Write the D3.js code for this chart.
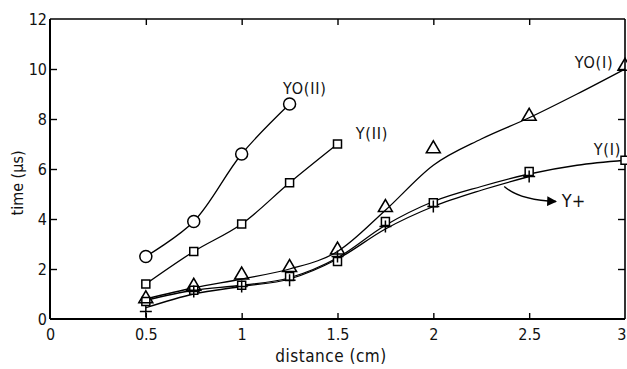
<!DOCTYPE html>
<html>
<head>
<meta charset="utf-8">
<script src="https://cdn.jsdelivr.net/npm/d3@7"></script>
<style>
  body { margin: 0; background: #fff; }
  svg text { font-family: "DejaVu Sans Condensed", "DejaVu Sans", sans-serif; fill: #111; }
</style>
</head>
<body>
<svg id="chart"></svg>
<script>
// ---- data ----
const xTicks = [0, 0.5, 1, 1.5, 2, 2.5, 3];
const yTicks = [0, 2, 4, 6, 8, 10, 12];

// markers
const yo2X = [0.5, 0.75, 1, 1.25];
const yo2Y = [2.5, 3.9, 6.6, 8.6];
const y2X = [0.5, 0.75, 1, 1.25, 1.5];
const y2Y = [1.4, 2.7, 3.8, 5.45, 7.0];
const yo1X = [0.5, 0.75, 1, 1.25, 1.5, 1.75, 2, 2.5, 3];
const yo1Y = [0.85, 1.35, 1.8, 2.1, 2.8, 4.5, 6.85, 8.15, 10.15];
const y1X = [0.5, 0.75, 1, 1.25, 1.5, 1.75, 2, 2.5, 3];
const y1Y = [0.7, 1.15, 1.35, 1.7, 2.3, 3.9, 4.65, 5.9, 6.35];
const ypX = [0.5, 0.75, 1, 1.25, 1.5, 1.75, 2, 2.5];
const ypY = [0.3, 1.1, 1.3, 1.55, 2.5, 3.7, 4.5, 5.7];

// hand-drawn fitted curves
const yo1CurveX = [0.5, 0.75, 1, 1.25, 1.5, 1.75, 2, 2.25, 2.5, 2.75, 3];
const yo1CurveY = [0.8, 1.25, 1.6, 2.0, 2.7, 4.35, 6.15, 7.2, 8.05, 9.0, 10.0];
const y1CurveX = [0.5, 0.75, 1, 1.25, 1.5, 1.75, 2, 2.25, 2.5, 2.75, 3];
const y1CurveY = [0.75, 1.15, 1.35, 1.65, 2.45, 3.75, 4.7, 5.3, 5.8, 6.15, 6.35];
const ypCurveX = [0.5, 0.75, 1, 1.25, 1.5, 1.75, 2, 2.25, 2.5];
const ypCurveY = [0.45, 1.0, 1.3, 1.6, 2.4, 3.6, 4.5, 5.15, 5.7];

const width = 627, height = 369;
const margin = {left: 50, right: 2, top: 19, bottom: 50};

const svg = d3.select("#chart").attr("width", width).attr("height", height);

const x = d3.scaleLinear().domain([0, 3]).range([margin.left, width - margin.right]);
const y = d3.scaleLinear().domain([0, 12]).range([height - margin.bottom, margin.top]);

const zip = (xs, ys) => xs.map((d, i) => [d, ys[i]]);

// frame
const x0 = x(0), x1 = x(3), yB = y(0), yT = y(12);
svg.append("line").attr("x1", x0).attr("x2", x0).attr("y1", yT).attr("y2", yB).attr("stroke", "#000").attr("stroke-width", 2);
svg.append("line").attr("x1", x0).attr("x2", x1).attr("y1", yB).attr("y2", yB).attr("stroke", "#000").attr("stroke-width", 2);
svg.append("line").attr("x1", x0).attr("x2", x1).attr("y1", yT).attr("y2", yT).attr("stroke", "#000").attr("stroke-width", 1.6);
svg.append("line").attr("x1", x1).attr("x2", x1).attr("y1", yT).attr("y2", yB).attr("stroke", "#000").attr("stroke-width", 1.6);

// axes with inward ticks
const xAxis = d3.axisBottom(x).tickValues(xTicks).tickSize(-6).tickPadding(9)
  .tickFormat(d => d3.format("~g")(d));
const gx = svg.append("g").attr("transform", `translate(0,${yB})`).call(xAxis);
gx.select(".domain").remove();
gx.selectAll("line").attr("stroke-width", 1.4).filter(d => d === 0 || d === 3).remove();
gx.selectAll("text").attr("font-size", 16).attr("dy", "0.75em")
  .filter(d => d === 3).attr("text-anchor", "end").attr("dx", 1);

const yAxis = d3.axisLeft(y).tickValues(yTicks).tickSize(-7).tickPadding(3);
const gy = svg.append("g").attr("transform", `translate(${x0},0)`).call(yAxis);
gy.select(".domain").remove();
gy.selectAll("line").attr("stroke-width", 1.4).filter(d => d === 0 || d === 12).remove();
gy.selectAll("text").attr("font-size", 16).attr("dy", "0.35em");

// top and right inward ticks
const gTop = svg.append("g").attr("transform", `translate(0,${yT})`).call(d3.axisTop(x).tickValues(xTicks.slice(1, -1)).tickSize(-6).tickFormat(""));
gTop.select(".domain").remove();
gTop.selectAll("line").attr("stroke-width", 1.4);
const gRight = svg.append("g").attr("transform", `translate(${x1},0)`).call(d3.axisRight(y).tickValues(yTicks.slice(1, -1)).tickSize(-7).tickFormat(""));
gRight.select(".domain").remove();
gRight.selectAll("line").attr("stroke-width", 1.4);

// axis titles
svg.append("text").attr("x", 331).attr("y", 362).attr("text-anchor", "middle")
  .attr("font-size", 17).attr("letter-spacing", 0.5).text("distance (cm)");
svg.append("text").attr("transform", `translate(23,183) rotate(-90)`)
  .attr("text-anchor", "middle").attr("font-size", 16).text("time (\u00b5s)");

// curves: straight-ish joins for the (II) series, smooth fits for the (I) series
const joinLine = d3.line().x(d => x(d[0])).y(d => y(d[1])).curve(d3.curveCatmullRom.alpha(0.5));
const fitLine = d3.line().x(d => x(d[0])).y(d => y(d[1])).curve(d3.curveMonotoneX);
const cg = svg.append("g").attr("fill", "none").attr("stroke", "#000").attr("stroke-width", 1.3);
[zip(yo2X, yo2Y), zip(y2X, y2Y)].forEach(p => cg.append("path").attr("d", joinLine(p)));
[zip(yo1CurveX, yo1CurveY), zip(y1CurveX, y1CurveY), zip(ypCurveX, ypCurveY)]
  .forEach(p => cg.append("path").attr("d", fitLine(p)));

// markers
const mk = svg.append("g").attr("fill", "#fff").attr("stroke", "#000").attr("stroke-width", 1.5);
mk.selectAll("circle").data(zip(yo2X, yo2Y)).enter().append("circle")
  .attr("cx", d => x(d[0])).attr("cy", d => y(d[1])).attr("r", 6);
mk.selectAll("rect.sq").data(zip(y2X, y2Y).concat(zip(y1X, y1Y))).enter().append("rect")
  .attr("class", "sq")
  .attr("x", d => x(d[0]) - 4).attr("y", d => y(d[1]) - 4).attr("width", 8).attr("height", 8);
mk.selectAll("path.tri").data(zip(yo1X, yo1Y)).enter().append("path")
  .attr("class", "tri").attr("fill", "none")
  .attr("d", d => { const cx = x(d[0]), cy = y(d[1]); return `M${cx - 7},${cy + 5}L${cx},${cy - 7}L${cx + 7},${cy + 5}Z`; });
mk.selectAll("path.plus").data(zip(ypX, ypY)).enter().append("path")
  .attr("class", "plus")
  .attr("d", d => { const cx = x(d[0]), cy = y(d[1]); return `M${cx - 6},${cy}H${cx + 6}M${cx},${cy - 6}V${cy + 6}`; });

// series labels
const labels = [
  {t: "YO(II)", x: 1.33, y: 9.0, a: "middle"},
  {t: "Y(II)", x: 1.68, y: 7.2, a: "middle"},
  {t: "YO(I)", x: 2.94, y: 10.05, a: "end"},
  {t: "Y(I)", x: 2.98, y: 6.55, a: "end"}
];
svg.append("g").selectAll("text").data(labels).enter().append("text")
  .attr("x", d => x(d.x)).attr("y", d => y(d.y)).attr("text-anchor", d => d.a)
  .attr("font-size", 16).attr("letter-spacing", 0.8).text(d => d.t);

svg.append("text").attr("x", x(2.67)).attr("y", y(4.75)).attr("dy", "0.35em").attr("font-size", 18).text("Y+");
svg.append("defs").append("marker").attr("id", "ah").attr("viewBox", "0 0 10 10")
  .attr("refX", 9).attr("refY", 5).attr("markerWidth", 7).attr("markerHeight", 7).attr("orient", "auto")
  .append("path").attr("d", "M0,0L10,5L0,10Z").attr("fill", "#000");
svg.append("path")
  .attr("d", `M${x(2.37)},${y(5.3)}Q${x(2.45)},${y(4.75)} ${x(2.64)},${y(4.7)}`)
  .attr("fill", "none").attr("stroke", "#000").attr("stroke-width", 1.4).attr("marker-end", "url(#ah)");
</script>
</body>
</html>
